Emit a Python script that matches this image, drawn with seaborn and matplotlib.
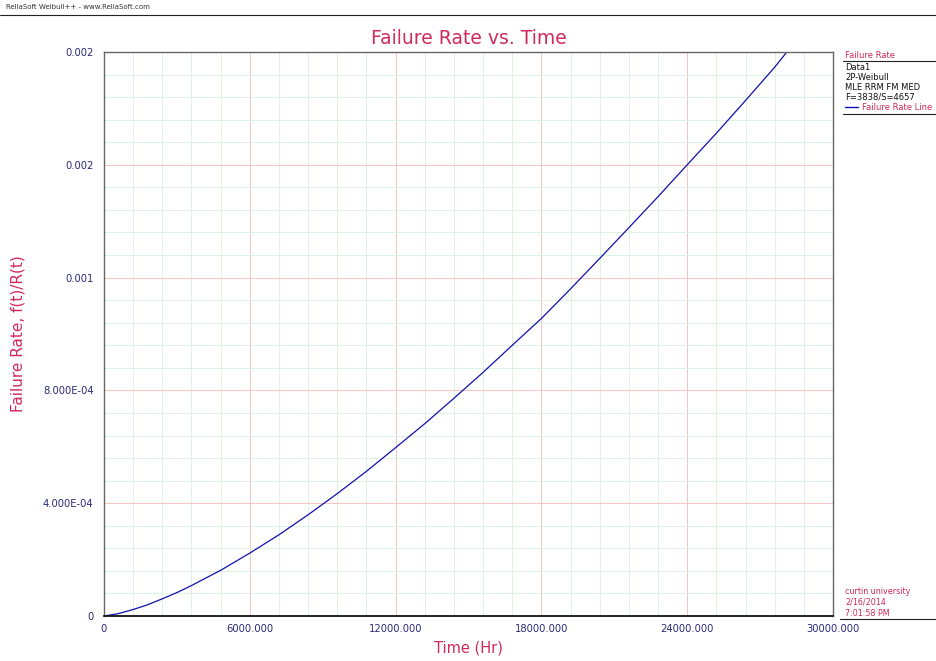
import numpy as np
import pandas as pd
import seaborn as sns
import matplotlib.pyplot as plt
from matplotlib.ticker import MultipleLocator
from matplotlib.lines import Line2D

# valores (tempo em horas, taxa de falha)
tempo = [0, 600, 1200, 1800, 2400, 3000, 3600, 4800, 6000, 7200, 8400, 9600,
         10800, 12000, 13200, 14400, 15600, 16800, 18000, 19200, 20400,
         21600, 22800, 24000, 25200, 26400, 27600, 28100]
taxa = [0.0, 8.5e-6, 2.3e-5, 4.0e-5, 6.1e-5, 8.3e-5, 1.08e-4, 1.62e-4,
        2.23e-4, 2.88e-4, 3.59e-4, 4.34e-4, 5.13e-4, 5.97e-4, 6.82e-4,
        7.72e-4, 8.64e-4, 9.6e-4, 1.055e-3, 1.16e-3, 1.268e-3, 1.377e-3,
        1.487e-3, 1.6e-3, 1.712e-3, 1.828e-3, 1.946e-3, 2.0e-3]

x_ticks = [0, 6000, 12000, 18000, 24000, 30000]
x_labels = ['0', '6000.000', '12000.000', '18000.000', '24000.000', '30000.000']
y_ticks = [0, 0.0004, 0.0008, 0.0012, 0.0016, 0.002]
y_labels = ['0', '4.000E-04', '8.000E-04', '0.001', '0.002', '0.002']

legenda_info = ['Data1', '2P-Weibull', 'MLE RRM FM MED', 'F=3838/S=4657']
rodape = ['curtin university', '2/16/2014', '7:01:58 PM']

df = pd.DataFrame({'tempo': tempo, 'taxa': taxa})

sns.set_style("white")
plt.rcParams['font.family'] = ['DejaVu Sans']

vermelho = '#d02a5c'
azul_txt = '#2a2a78'

fig = plt.figure(figsize=(9.37, 6.61), dpi=100)
ax = fig.add_axes([104/937, 45/661, 729/937, 564/661])

sns.lineplot(data=df, x='tempo', y='taxa', ax=ax, color='#1010b0', linewidth=0.9)

ax.set_xlim(0, 30000)
ax.set_ylim(0, 0.002)
ax.set_xticks(x_ticks)
ax.set_xticklabels(x_labels)
ax.set_yticks(y_ticks)
ax.set_yticklabels(y_labels)
ax.xaxis.set_minor_locator(MultipleLocator(1200))
ax.yaxis.set_minor_locator(MultipleLocator(0.00008))

ax.grid(which='minor', color='#dcf2e0', linewidth=0.7)
ax.grid(which='major', color='#f3c4c4', linewidth=0.7)
ax.set_axisbelow(True)

ax.tick_params(axis='both', which='major', labelsize=7.2, labelcolor=azul_txt,
               length=4, width=0.7, color='#555555', direction='out')
ax.tick_params(axis='both', which='minor', length=0)
ax.tick_params(axis='x', which='major', length=2)

for lado in ['top', 'right', 'left']:
    ax.spines[lado].set_color('#666666')
    ax.spines[lado].set_linewidth(1.0)
ax.spines['bottom'].set_color('#111111')
ax.spines['bottom'].set_linewidth(1.3)

ax.set_xlabel('Time (Hr)', color=vermelho, fontsize=10.5, va='center')
ax.xaxis.set_label_coords(0.5, -32/564)
ax.set_ylabel('Failure Rate, f(t)/R(t)', color=vermelho, fontsize=11, va='center')
ax.yaxis.set_label_coords(-86/729, 0.5)
ax.set_title('Failure Rate vs. Time', color=vermelho, fontsize=13.5, pad=6)

# cabecalho
fig.text(6/937, 1 - 7/661, 'ReliaSoft Weibull++ - www.ReliaSoft.com', fontsize=5.0,
         color='#333333', va='center')
fig.add_artist(Line2D([0, 1], [1 - 15/661, 1 - 15/661], color='#222222', linewidth=0.8))

# painel da legenda
def py(y):
    return 1 - y/661

fig.text(845/937, py(56), 'Failure Rate', fontsize=6.0, color=vermelho, va='center')
fig.add_artist(Line2D([843/937, 1], [py(61), py(61)], color='#222222', linewidth=0.8))
for i, linha in enumerate(legenda_info):
    fig.text(845/937, py(68 + i*9.8), linha, fontsize=6.0, color='#111111', va='center')
fig.add_artist(Line2D([845/937, 858/937], [py(107), py(107)], color='#1010b0', linewidth=1.0))
fig.text(862/937, py(107), 'Failure Rate Line', fontsize=6.0, color=vermelho, va='center')
fig.add_artist(Line2D([843/937, 1], [py(114), py(114)], color='#222222', linewidth=0.8))

for i, linha in enumerate(rodape):
    fig.text(845/937, py(591 + i*11), linha, fontsize=5.8, color=vermelho, va='center')
fig.add_artist(Line2D([840/937, 1], [py(619), py(619)], color='#222222', linewidth=0.8))

plt.savefig('out.png', dpi=100)
